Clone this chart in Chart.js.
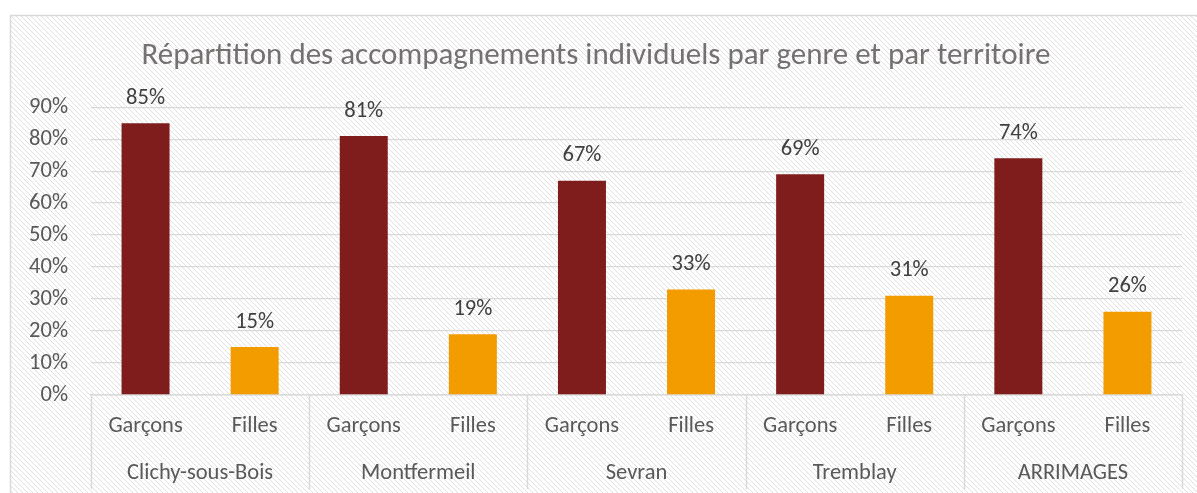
<!DOCTYPE html>
<html>
<head>
<meta charset="utf-8">
<script src="https://cdn.jsdelivr.net/npm/chart.js@4/dist/chart.umd.min.js"></script>
<style>
  html, body { margin: 0; padding: 0; background: #ffffff; }
  #wrap { width: 1197px; height: 493px; }
</style>
</head>
<body>
<div id="wrap"><canvas id="chart"></canvas></div>
<script>
const territoires = ['Clichy-sous-Bois', 'Montfermeil', 'Sevran', 'Tremblay', 'ARRIMAGES'];
const genres = ['Garçons', 'Filles'];
const garcons = [85, 81, 67, 69, 74];
const filles = [15, 19, 33, 31, 26];
const yTicks = [0, 10, 20, 30, 40, 50, 60, 70, 80, 90];

const fontFamily = "Carlito, Lato, 'Open Sans', sans-serif";
const grey = '#d9d9d9';
const labelSize = 22.5;

// one category per bar: Garçons, Filles, Garçons, Filles...
let xLabels = [];
let garconsData = [];
let fillesData = [];
territoires.forEach((t, i) => {
  xLabels.push(genres[0], genres[1]);
  garconsData.push(garcons[i], null);
  fillesData.push(null, filles[i]);
});

//diagonal hatch used as chart background
function makeHatch(){
  const c = document.createElement('canvas');
  c.width = 5; c.height = 5;
  const g = c.getContext('2d');
  g.strokeStyle = '#e0e0e0';
  g.lineWidth = 1;
  g.beginPath();
  g.moveTo(-1, -1); g.lineTo(6, 6);
  g.moveTo(-1, 4); g.lineTo(1, 6);
  g.moveTo(4, -1); g.lineTo(6, 1);
  g.stroke();
  return g.createPattern(c, 'repeat');
}

const backgroundPlugin = {
  id: 'hatchBackground',
  beforeDraw: (chart) => {
    const {ctx} = chart;
    ctx.save();
    ctx.fillStyle = '#ffffff';
    ctx.fillRect(0, 0, chart.width, chart.height);
    ctx.fillStyle = makeHatch();
    ctx.fillRect(10, 15, chart.width, chart.height);
    ctx.strokeStyle = grey;
    ctx.lineWidth = 1.5;
    ctx.strokeRect(10.5, 15.5, chart.width + 10, chart.height + 10);
    ctx.restore();
  }
};

//vertical separators between the territory groups
const separatorPlugin = {
  id: 'groupSeparators',
  afterDraw: (chart) => {
    const {ctx, chartArea} = chart;
    const x = chart.scales.x;
    const x2 = chart.scales.x2;
    ctx.save();
    ctx.strokeStyle = grey;
    ctx.lineWidth = 1.5;
    for(let i = 0; i <= territoires.length; i++){
      const px = Math.round(x.getPixelForValue(i * 2 - 0.5)) + 0.5;
      ctx.beginPath();
      ctx.moveTo(px, chartArea.bottom);
      ctx.lineTo(px, x2.bottom - 4);
      ctx.stroke();
    }
    ctx.restore();
  }
};

const valueLabelPlugin = {
  id: 'valueLabels',
  afterDatasetsDraw: (chart) => {
    const {ctx} = chart;
    ctx.save();
    ctx.font = labelSize + 'px ' + fontFamily;
    ctx.fillStyle = '#404040';
    ctx.textAlign = 'center';
    ctx.textBaseline = 'middle';
    chart.data.datasets.forEach((ds, di) => {
      const meta = chart.getDatasetMeta(di);
      meta.data.forEach((bar, i) => {
        if(ds.data[i] === null) return;
        ctx.fillText(ds.data[i] + '%', bar.x, bar.y - 25);
      });
    });
    ctx.restore();
  }
};

new Chart(document.getElementById('chart'), {
  type: 'bar',
  data: {
    labels: xLabels,
    datasets: [{
      label: 'Garçons',
      data: garconsData,
      backgroundColor: '#7f1c1c',
      barPercentage: 0.44,
      categoryPercentage: 1,
      grouped: false,
    }, {
      label: 'Filles',
      data: fillesData,
      backgroundColor: '#f29c00',
      barPercentage: 0.44,
      categoryPercentage: 1,
      grouped: false,
    }]
  },
  options: {
    responsive: true,
    maintainAspectRatio: false,
    animation: false,
    layout: { padding: { left: 10, right: 15, top: 0, bottom: 0 } },
    plugins: {
      legend: { display: false },
      tooltip: { enabled: false },
      title: {
        display: true,
        text: 'Répartition des accompagnements individuels par genre et par territoire',
        color: '#767171',
        font: { family: fontFamily, size: 31, weight: 'normal' },
        padding: { top: 38, bottom: 32 }
      }
    },
    scales: {
      y: {
        min: 0,
        max: 90,
        afterBuildTicks: (scale) => { scale.ticks = yTicks.map(v => ({value: v})); },
        ticks: {
          callback: value => `${value}%`,
          color: '#595959',
          font: { family: fontFamily, size: labelSize },
          padding: 23,
        },
        grid: { color: grey, lineWidth: 1.3, drawTicks: false },
        border: { display: false },
        afterFit: (scale) => { scale.width = 81; }
      },
      x: {
        ticks: {
          color: '#595959',
          font: { family: fontFamily, size: labelSize },
          padding: 18,
          maxRotation: 0,
          autoSkip: false,
        },
        grid: { display: false, drawTicks: false },
        border: { display: true, color: grey, width: 1.5 },
        afterFit: (scale) => { scale.height = 42; }
      },
      x2: {
        type: 'category',
        position: 'bottom',
        labels: territoires,
        offset: true,
        ticks: {
          color: '#595959',
          font: { family: fontFamily, size: labelSize },
          padding: 23,
          maxRotation: 0,
          autoSkip: false,
        },
        grid: { display: false, drawTicks: false },
        border: { display: false },
        afterFit: (scale) => { scale.height = 56; }
      }
    }
  },
  plugins: [backgroundPlugin, separatorPlugin, valueLabelPlugin],
});
</script>
</body>
</html>
